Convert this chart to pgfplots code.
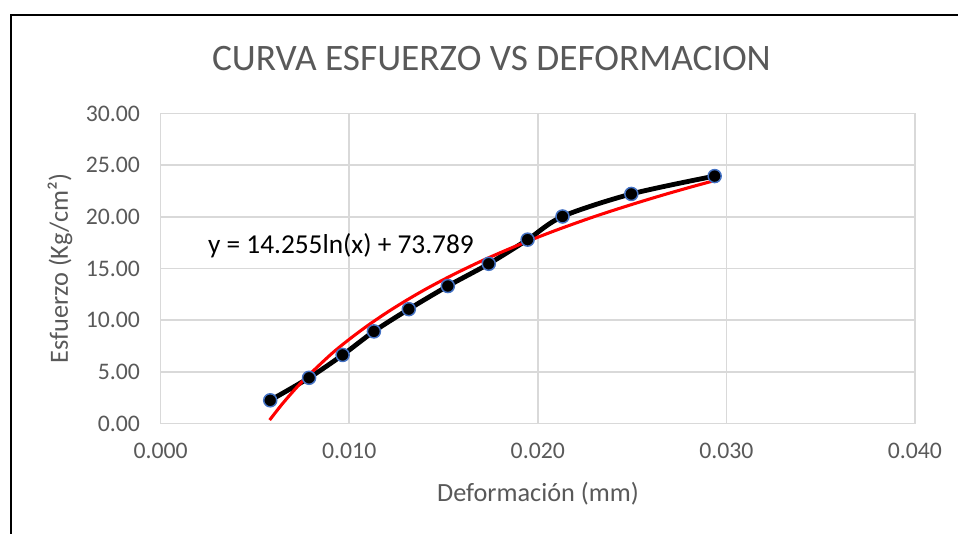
\documentclass[border=0pt]{standalone}
\usepackage{fontspec}
\setmainfont{Carlito}
\usepackage{pgfplots}
\pgfplotsset{compat=1.18}
\definecolor{txtgray}{HTML}{595959}
\definecolor{gridgray}{HTML}{D9D9D9}
\definecolor{mkblue}{HTML}{4472C4}
\definecolor{trendred}{HTML}{FF0000}
\begin{document}
\begin{tikzpicture}
\useasboundingbox (-120.5pt,-82.9pt) rectangle (598pt,317.6pt);
\draw[line width=1.5pt] (-112.5pt,-90pt) -- (-112.5pt,306.4pt) -- (610pt,306.4pt);
\begin{axis}[
  at={(0,0)}, anchor=south west, scale only axis,
  width=565.7pt, height=232.5pt,
  xmin=0, xmax=0.04, ymin=0, ymax=30,
  xtick={0,0.01,0.02,0.03,0.04},
  ytick={0,5,10,15,20,25,30},
  grid=major,
  major grid style={draw=gridgray, line width=1.1pt},
  axis line style={draw=gridgray, line width=1.1pt},
  tick style={draw=none},
  scaled x ticks=false, scaled y ticks=false,
  ticklabel style={font=\fontsize{17.8}{20}\selectfont, text=txtgray},
  /pgf/number format/assume math mode=true,
  xticklabel style={yshift=-11pt, /pgf/number format/fixed, /pgf/number format/fixed zerofill, /pgf/number format/precision=3},
  yticklabel style={xshift=-12pt, /pgf/number format/fixed, /pgf/number format/fixed zerofill, /pgf/number format/precision=2},
  clip=false,
]
\addplot[black, line width=3.6pt, smooth, mark=*, mark size=4.9pt,
  mark options={fill=black, draw=mkblue, line width=1.1pt}] coordinates {
  (0.00581,2.24) (0.00787,4.42) (0.00965,6.63) (0.01131,8.91) (0.01316,11.06)
  (0.01523,13.30) (0.01740,15.45) (0.01946,17.79) (0.02131,20.03)
  (0.02496,22.21) (0.02938,23.94)
};
\addplot[trendred, line width=2.3pt, smooth] coordinates {
  (0.00578,0.33) (0.0065,2.00) (0.0075,4.04) (0.009,6.64) (0.010,8.14)
  (0.011,9.50) (0.012,10.74) (0.013,11.88) (0.014,12.94) (0.015,13.92)
  (0.016,14.84) (0.017,15.71) (0.018,16.52) (0.019,17.29) (0.020,18.02)
  (0.021,18.72) (0.022,19.38) (0.023,20.02) (0.024,20.62) (0.025,21.20)
  (0.026,21.76) (0.027,22.30) (0.028,22.82) (0.029,23.32) (0.02938,23.50)
};
\node[anchor=west, font=\fontsize{20.5}{23}\selectfont, text=black, inner sep=0pt] at (axis cs:0.0025,17.2) {y = 14.255ln(x) + 73.789};
\end{axis}
\node[font=\fontsize{28}{30}\selectfont, text=txtgray] at (248.1pt,273.4pt) {CURVA ESFUERZO VS DEFORMACION};
\node[font=\fontsize{19.7}{22}\selectfont, text=txtgray] at (283pt,-52.9pt) {Deformación (mm)};
\node[rotate=90, font=\fontsize{19.7}{22}\selectfont, text=txtgray] at (-75.5pt,116.25pt) {Esfuerzo (Kg/cm²)};
\end{tikzpicture}
\end{document}
